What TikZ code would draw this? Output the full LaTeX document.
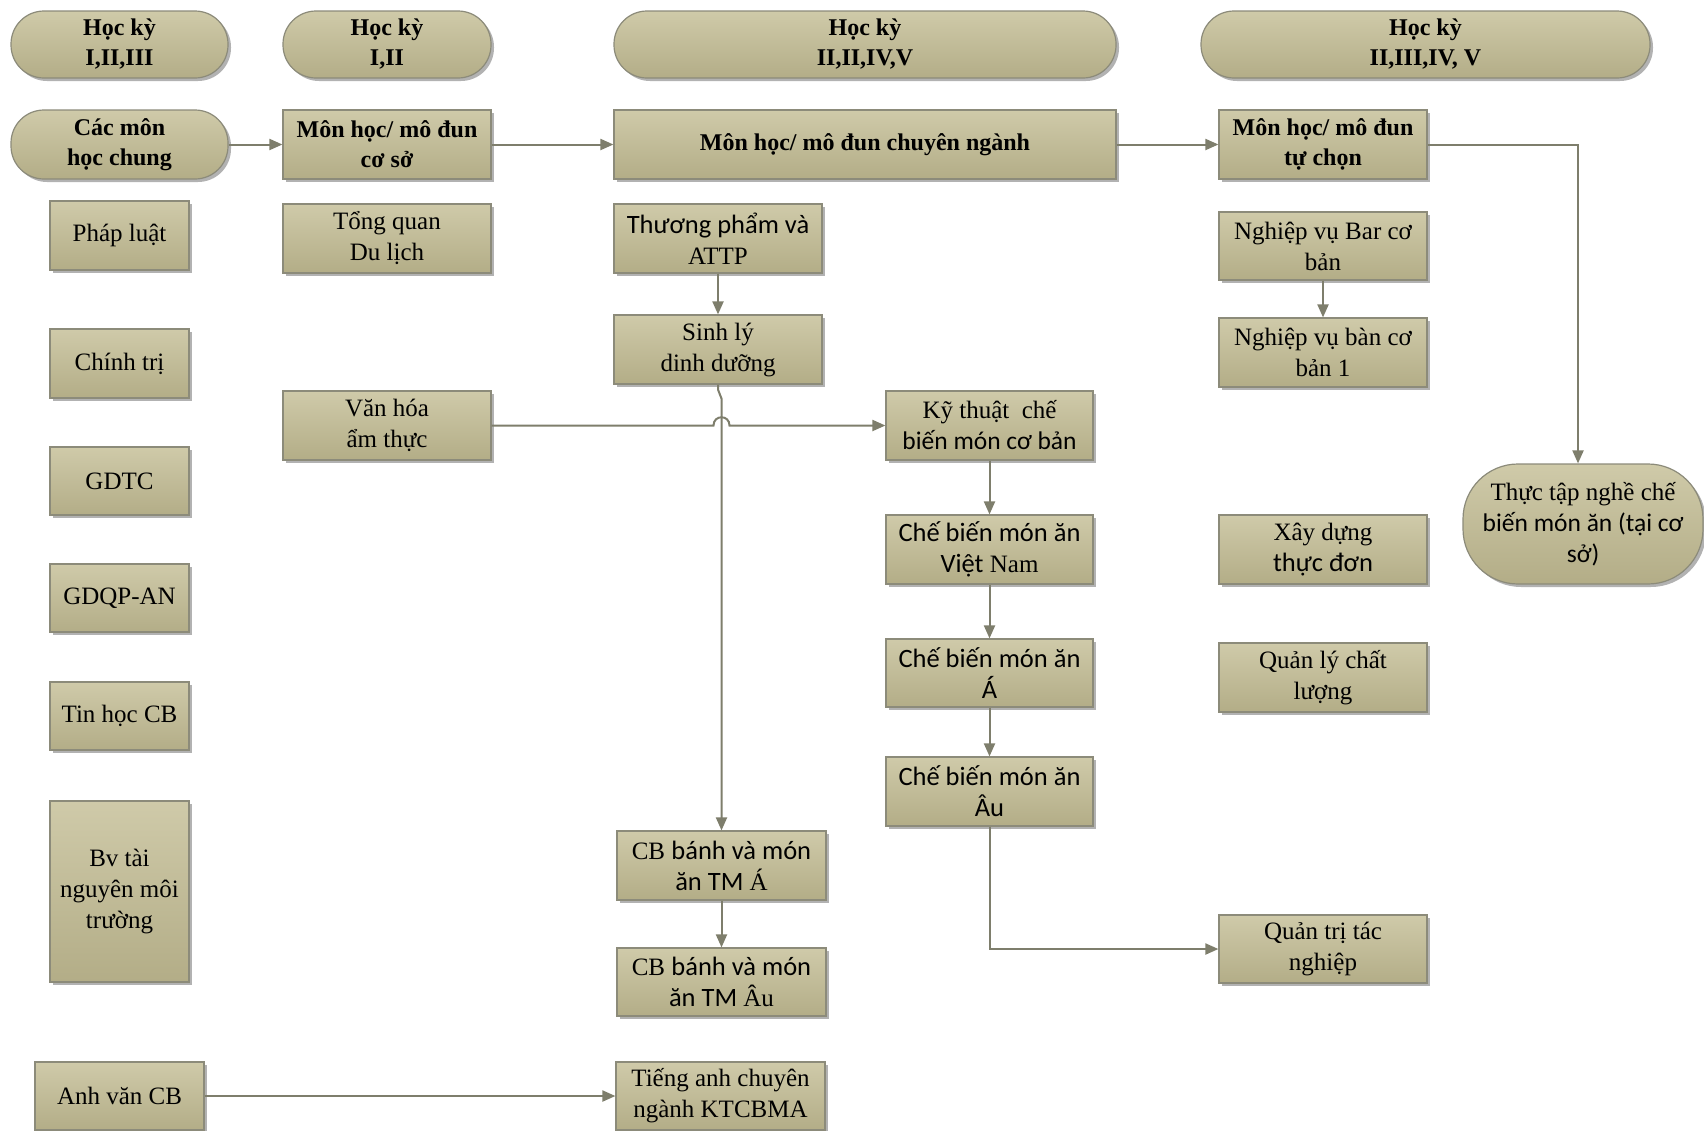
\documentclass[tikz,border=0pt]{standalone}
\usepackage{fontspec}
\setmainfont{Liberation Serif}
\newfontfamily\calf{Carlito}
\usetikzlibrary{arrows.meta,shadows,calc}
\definecolor{boxtop}{HTML}{CFCAA9}
\definecolor{boxbot}{HTML}{B3AD87}
\definecolor{boxline}{HTML}{8C8B7A}
\definecolor{conn}{HTML}{7E7E6C}
\tikzset{
 base/.style={draw=boxline, line width=1.2pt, top color=boxtop, bottom color=boxbot,
   drop shadow={shadow xshift=3pt, shadow yshift=-3pt, fill=black, opacity=0.3},
   align=center, inner sep=2pt, text=black},
 box/.style={base, rectangle},
 pill/.style={base, rounded corners=33pt},
 hd/.style={font=\fontsize{24}{30}\selectfont\bfseries},
 tx/.style={font=\fontsize{25}{31}\selectfont},
 arr/.style={draw=conn, line width=2pt, -{Triangle[length=13pt,width=11pt]}},
}
\newcommand\cb[1]{{\calf\fontsize{26.5}{32}\selectfont #1}}
\newcommand\cbs[1]{{\calf\fontsize{25.5}{31}\selectfont #1}}
\begin{document}
\begin{tikzpicture}[x=1pt,y=-1pt]
\useasboundingbox (0,0) rectangle (1704,1130);
\fill[white] (0,0) rectangle (1704,1130);

% headers
\node[pill,hd,minimum width=217pt,minimum height=67pt] (h1) at (119.5,44.5) {Học kỳ\\I,II,III};
\node[pill,hd,minimum width=208pt,minimum height=67pt] (h2) at (387,44.5) {Học kỳ\\I,II};
\node[pill,hd,minimum width=502pt,minimum height=67pt] (h3) at (865,44.5) {Học kỳ\\II,II,IV,V};
\node[pill,hd,minimum width=449pt,minimum height=67pt] (h4) at (1425.5,44.5) {Học kỳ\\II,III,IV, V};

% row 2
\node[pill,hd,minimum width=217pt,minimum height=69pt] (chung) at (119.5,144.5) {Các môn\\học chung};
\node[box,hd,minimum width=208pt,minimum height=69pt] (coso) at (387,144.5) {Môn học/ mô đun\\cơ sở};
\node[box,hd,minimum width=502pt,minimum height=69pt] (cn) at (865,144.5) {Môn học/ mô đun chuyên ngành};
\node[box,hd,minimum width=208pt,minimum height=69pt] (tc) at (1323,144.5) {Môn học/ mô đun\\tự chọn};

% column 1
\node[box,tx,minimum width=139pt,minimum height=69pt] (phapluat) at (119.5,235.5) {Pháp luật};
\node[box,tx,minimum width=139pt,minimum height=69pt] (chinhtri) at (119.5,363.5) {Chính trị};
\node[box,tx,minimum width=139pt,minimum height=68pt] (gdtc) at (119.5,481) {GDTC};
\node[box,tx,minimum width=139pt,minimum height=68pt] (gdqp) at (119.5,598) {GDQP-AN};
\node[box,tx,minimum width=139pt,minimum height=68pt] (tinhoc) at (119.5,716) {Tin học CB};
\node[box,tx,minimum width=139pt,minimum height=181pt] (bv) at (119.5,891.5) {Bv tài\\nguyên môi\\trường};
\node[box,tx,minimum width=169pt,minimum height=68pt] (anhvan) at (119.5,1096) {Anh văn CB};

% column 2
\node[box,tx,minimum width=208pt,minimum height=69pt] (tongquan) at (387,238.5) {Tổng quan\\Du lịch};
\node[box,tx,minimum width=208pt,minimum height=69pt] (vanhoa) at (387,425.5) {Văn hóa\\ẩm thực};

% column 3a
\node[box,tx,minimum width=208pt,minimum height=69pt] (thuongpham) at (718,238.5) {\cb{Thương phẩm và}\\ATTP};
\node[box,tx,minimum width=208pt,minimum height=69pt] (sinhly) at (718,349.5) {Sinh lý\\dinh dưỡng};
\node[box,tx,minimum width=209pt,minimum height=69pt] (tmA) at (721.5,865.5) {CB \cb{bánh và món}\\\cb{ăn TM} Á};
\node[box,tx,minimum width=209pt,minimum height=68pt] (tmAu) at (721.5,982) {CB \cb{bánh và món}\\\cb{ăn TM} Âu};
\node[box,tx,minimum width=209pt,minimum height=68pt] (tienganh) at (720.5,1096) {Tiếng anh chuyên\\ngành KTCBMA};

% column 3b
\node[box,tx,minimum width=207pt,minimum height=69pt] (kythuat) at (989.5,425.5) {Kỹ thuật\ \ chế\\\cbs{biến món cơ bản}};
\node[box,tx,minimum width=207pt,minimum height=69pt] (vietnam) at (989.5,549.5) {\cb{Chế biến món ăn}\\\cb{Việt} Nam};
\node[box,tx,minimum width=207pt,minimum height=68pt] (mona) at (989.5,673) {\cb{Chế biến món ăn}\\\cb{Á}};
\node[box,tx,minimum width=207pt,minimum height=69pt] (monau) at (989.5,791.5) {\cb{Chế biến món ăn}\\\cb{Âu}};

% column 4
\node[box,tx,minimum width=208pt,minimum height=68pt] (bar) at (1323,246) {Nghiệp vụ Bar cơ\\bản};
\node[box,tx,minimum width=208pt,minimum height=69pt] (ban) at (1323,352.5) {Nghiệp vụ bàn cơ\\bản 1};
\node[box,tx,minimum width=208pt,minimum height=69pt] (xaydung) at (1323,549.5) {Xây dựng\\\cb{thực đơn}};
\node[box,tx,minimum width=208pt,minimum height=69pt] (quanly) at (1323,677.5) {Quản lý chất\\lượng};
\node[box,tx,minimum width=208pt,minimum height=68pt] (quantri) at (1323,949) {Quản trị tác\\nghiệp};

% practice
\node[base,tx,rounded corners=55pt,minimum width=240pt,minimum height=120pt] (thuctap) at (1583,524) {Thực tập nghề chế\\\cbs{biến món ăn (tại cơ}\\\cbs{sở)}};

% connectors
\draw[arr] (chung.east) -- (coso.west);
\draw[arr] (coso.east) -- (cn.west);
\draw[arr] (cn.east) -- (tc.west);
\draw[arr] (tc.east) -| ($(thuctap.north)+(-5,0)$);
\draw[arr] (thuongpham.south) -- (sinhly.north);
\draw[arr] (sinhly.south) -- ++(0,5) -- ($(tmA.north |- sinhly.south)+(0,14)$) -- (tmA.north);
\draw[arr] (vanhoa.east) -- ($(tmA.north |- vanhoa.east)+(-8,0)$)
  .. controls +(0,-11) and +(0,-11) .. ($(tmA.north |- vanhoa.east)+(8,0)$) -- (kythuat.west);
\draw[arr] (kythuat.south) -- (vietnam.north);
\draw[arr] (vietnam.south) -- (mona.north);
\draw[arr] (mona.south) -- (monau.north);
\draw[arr] (monau.south) |- (quantri.west);
\draw[arr] (bar.south) -- (ban.north);
\draw[arr] (tmA.south) -- (tmAu.north);
\draw[arr] (anhvan.east) -- (tienganh.west);
\end{tikzpicture}
\end{document}
